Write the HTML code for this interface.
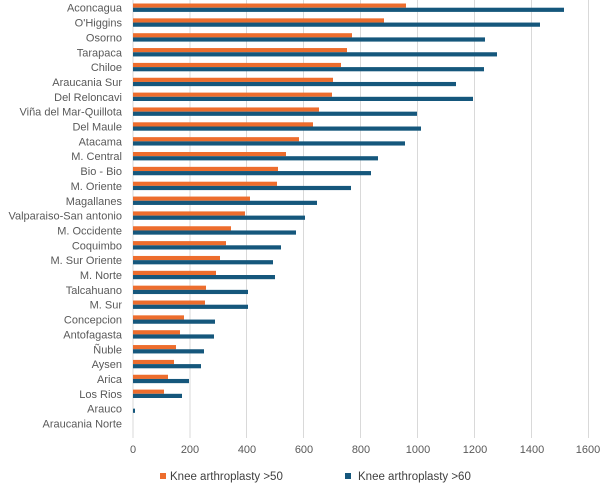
<!DOCTYPE html>
<html><head><meta charset="utf-8"><style>
html,body{margin:0;padding:0;background:#fff;}
svg{display:block;font-family:"Liberation Sans",Arial,sans-serif;}
</style></head><body>
<svg width="602" height="485" viewBox="0 0 602 485" xmlns="http://www.w3.org/2000/svg">
<g stroke="#d9d9d9" stroke-width="1">
<line x1="133" y1="0" x2="133" y2="438"/><line x1="190" y1="0" x2="190" y2="438"/><line x1="246.5" y1="0" x2="246.5" y2="438"/><line x1="303.5" y1="0" x2="303.5" y2="438"/><line x1="360.5" y1="0" x2="360.5" y2="438"/><line x1="417.5" y1="0" x2="417.5" y2="438"/><line x1="474.5" y1="0" x2="474.5" y2="438"/><line x1="531.5" y1="0" x2="531.5" y2="438"/><line x1="588.5" y1="0" x2="588.5" y2="438"/>
</g>
<g id="bars"></g>
<g font-size="11" fill="#595959" text-anchor="end" id="labels"></g>
<g font-size="11" fill="#595959" text-anchor="middle">
<text x="133" y="453">0</text><text x="190" y="453">200</text><text x="247" y="453">400</text><text x="304" y="453">600</text><text x="361" y="453">800</text><text x="418" y="453">1000</text><text x="475" y="453">1200</text><text x="532" y="453">1400</text><text x="588" y="453">1600</text>
</g>
<rect x="160" y="473" width="6" height="6" fill="#ed6d2d"/>
<text x="170" y="480" font-size="11.5" fill="#404040">Knee arthroplasty &gt;50</text>
<rect x="345" y="473" width="6" height="6" fill="#15577c"/>
<text x="358" y="480" font-size="11.5" fill="#404040">Knee arthroplasty &gt;60</text>
</svg>
<script>
var d=[["Aconcagua",406,564],["O'Higgins",384,540],["Osorno",352,485],["Tarapaca",347,497],["Chiloe",341,484],["Araucania Sur",333,456],["Del Reloncavi",332,473],["Viña del Mar-Quillota",319,417],["Del Maule",313,421],["Atacama",299,405],["M. Central",286,378],["Bio - Bio",278,371],["M. Oriente",277,351],["Magallanes",250,317],["Valparaiso-San antonio",245,305],["M. Occidente",231,296],["Coquimbo",226,281],["M. Sur Oriente",220,273],["M. Norte",216,275],["Talcahuano",206,248],["M. Sur",205,248],["Concepcion",184,215],["Antofagasta",180,214],["Ñuble",176,204],["Aysen",174,201],["Arica",168,189],["Los Rios",164,182],["Arauco",133,135],["Araucania Norte",133,133]];
var ns="http://www.w3.org/2000/svg",b=document.getElementById("bars"),l=document.getElementById("labels");
d.forEach(function(r,i){var c=7.7+i*14.85;
function rc(x2,y,f){if(x2-133<=0)return;var e=document.createElementNS(ns,"rect");e.setAttribute("x",133);e.setAttribute("y",y);e.setAttribute("width",x2-133);e.setAttribute("height",4.2);e.setAttribute("fill",f);b.appendChild(e);}
rc(r[1],c-4.2,"#ed6d2d");rc(r[2],c,"#15577c");
var t=document.createElementNS(ns,"text");t.setAttribute("x",122);t.setAttribute("y",c+4);t.textContent=r[0];l.appendChild(t);});
</script>
</body></html>
